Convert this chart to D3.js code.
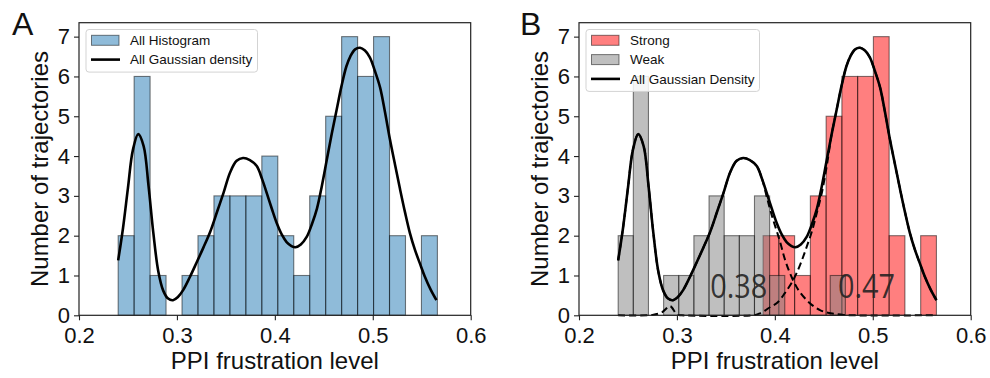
<!DOCTYPE html>
<html>
<head>
<meta charset="utf-8">
<script src="https://cdn.jsdelivr.net/npm/d3@7"></script>
<style>
  body { margin: 0; background: #fff; }
  svg { display: block; font-family: "Liberation Sans", Arial, sans-serif; }
</style>
</head>
<body>
<svg width="990" height="378"></svg>
<script>
// Histogram counts
const allRange = [0.240, 0.566];
const allCounts = [2, 6, 1, 0, 1, 2, 3, 3, 3, 4, 2, 1, 3, 5, 7, 6, 7, 2, 0, 2];

const weakRange = [0.240, 0.472];
const weakCounts = [2, 6, 0, 1, 1, 2, 3, 2, 2, 3, 1, 0, 0, 0, 1];

const strongRange = [0.388, 0.565];
const strongCounts = [2, 2, 1, 3, 5, 6, 6, 7, 2, 0, 2];

// Gaussian density curve [x, count]
const density = [
  [0.2400, 1.38], [0.2450, 2.20], [0.2500, 3.20], [0.2550, 4.15], [0.2605, 4.55],
  [0.2660, 4.25], [0.2710, 3.25], [0.2760, 2.05], [0.2810, 1.10], [0.2860, 0.62],
  [0.2910, 0.42], [0.2960, 0.38], [0.3010, 0.46], [0.3065, 0.64], [0.3130, 0.95],
  [0.3200, 1.32], [0.3270, 1.70], [0.3340, 2.10], [0.3410, 2.60], [0.3475, 3.07],
  [0.3545, 3.60], [0.3610, 3.88], [0.3675, 3.95], [0.3745, 3.90], [0.3815, 3.75],
  [0.3870, 3.42], [0.3920, 3.05], [0.3970, 2.67], [0.4020, 2.31], [0.4070, 2.03],
  [0.4120, 1.84], [0.4170, 1.74], [0.4210, 1.71], [0.4265, 1.78], [0.4325, 1.97],
  [0.4380, 2.30], [0.4430, 2.68], [0.4480, 3.25], [0.4530, 3.90], [0.4580, 4.55],
  [0.4630, 5.15], [0.4680, 5.75], [0.4730, 6.25], [0.4770, 6.50], [0.4820, 6.68],
  [0.4870, 6.72], [0.4920, 6.65], [0.4970, 6.48], [0.5020, 6.15], [0.5075, 5.72],
  [0.5125, 5.10], [0.5175, 4.42], [0.5230, 3.75], [0.5280, 3.15], [0.5330, 2.58],
  [0.5380, 2.06], [0.5430, 1.65], [0.5480, 1.31], [0.5530, 0.98], [0.5590, 0.65],
  [0.5650, 0.38]
];

// dashed weak component, where it leaves the solid curve
const weakTail = [
  [0.3920, 2.95], [0.3970, 2.50], [0.4048, 1.89], [0.4110, 1.35], [0.4184, 0.89],
  [0.4250, 0.60], [0.4325, 0.38], [0.4400, 0.22], [0.4461, 0.13], [0.4530, 0.07],
  [0.4600, 0.04], [0.4700, 0.01], [0.4800, 0.00], [0.5650, 0.00]
];

// dashed strong component, before it joins the solid curve
const strongHead = [
  [0.2400, 0.00], [0.2750, 0.01], [0.2850, 0.08], [0.2930, 0.23], [0.3000, 0.02],
  [0.3050, 0.00], [0.3800, 0.01], [0.3848, 0.05], [0.3900, 0.12], [0.3960, 0.22],
  [0.4018, 0.30], [0.4100, 0.55], [0.4188, 0.89], [0.4260, 1.28], [0.4325, 1.72],
  [0.4380, 2.12], [0.4427, 2.56], [0.4480, 3.08], [0.4530, 3.75]
];

const xTicks = [0.2, 0.3, 0.4, 0.5, 0.6];
const yTicks = [0, 1, 2, 3, 4, 5, 6, 7];
const peakLabels = [{ x: 0.334, text: "0.38" }, { x: 0.4645, text: "0.47" }];

const svg = d3.select("svg");

function binsFrom(range, counts) {
  const w = (range[1] - range[0]) / counts.length;
  return counts.map((c, i) => ({ x0: range[0] + i * w, x1: range[0] + (i + 1) * w, n: c }));
}

function makePanel(offsetX, letter) {
  const g = svg.append("g").attr("transform", `translate(${offsetX},0)`);
  const x = d3.scaleLinear().domain([0.2, 0.6]).range([79, 470.7]);
  const y = d3.scaleLinear().domain([0, 7.35]).range([315.3, 22.7]);

  g.append("text")
    .attr("x", offsetX === 0 ? 12 : 20)
    .attr("y", 35)
    .attr("font-size", 32)
    .attr("fill", "#111")
    .text(letter);

  return { g, x, y };
}

function drawBars(p, bins, fill) {
  p.g.append("g").selectAll("rect")
    .data(bins.filter(d => d.n > 0))
    .enter().append("rect")
    .attr("x", d => p.x(d.x0))
    .attr("width", d => p.x(d.x1) - p.x(d.x0))
    .attr("y", d => p.y(d.n))
    .attr("height", d => p.y(0) - p.y(d.n))
    .attr("fill", fill)
    .attr("fill-opacity", 0.5)
    .attr("stroke", "#000")
    .attr("stroke-opacity", 0.5)
    .attr("stroke-width", 1.1);
}

function drawAxes(p) {
  const { g, x, y } = p;
  g.append("rect")
    .attr("x", x(0.2)).attr("y", y(7.35))
    .attr("width", x(0.6) - x(0.2)).attr("height", y(0) - y(7.35))
    .attr("fill", "none").attr("stroke", "#222").attr("stroke-width", 1.2);

  const xa = g.append("g").attr("transform", `translate(0,${y(0)})`)
    .call(d3.axisBottom(x).tickValues(xTicks).tickFormat(d3.format(".1f")).tickSize(5).tickPadding(7.5));
  const ya = g.append("g").attr("transform", `translate(${x(0.2)},0)`)
    .call(d3.axisLeft(y).tickValues(yTicks).tickFormat(d3.format("d")).tickSize(5).tickPadding(4));
  [xa, ya].forEach(a => {
    a.select(".domain").remove();
    a.selectAll("line").attr("stroke", "#222").attr("stroke-width", 1.1);
    a.selectAll("text").attr("font-size", 22).attr("fill", "#111")
      .attr("font-family", "'Liberation Sans', Arial, sans-serif");
  });

  g.append("text")
    .attr("x", (x(0.2) + x(0.6)) / 2)
    .attr("y", 369)
    .attr("text-anchor", "middle")
    .attr("font-size", 24)
    .attr("fill", "#111")
    .text("PPI frustration level");

  g.append("text")
    .attr("transform", `translate(48,${(y(0) + y(7.35)) / 2}) rotate(-90)`)
    .attr("text-anchor", "middle")
    .attr("font-size", 24)
    .attr("fill", "#111")
    .text("Number of trajectories");
}

const line = d3.line().curve(d3.curveCatmullRom.alpha(0.5));

function drawCurve(p, pts, dashed) {
  p.g.append("path")
    .attr("d", line(pts.map(d => [p.x(d[0]), p.y(d[1])])))
    .attr("fill", "none")
    .attr("stroke", "#000")
    .attr("stroke-width", dashed ? 2 : 2.6)
    .attr("stroke-dasharray", dashed ? "7,4" : null);
}

function drawLegend(p, items, width) {
  const lg = p.g.append("g").attr("transform", "translate(86,29.5)");
  lg.append("rect")
    .attr("width", width).attr("height", 4 + items.length * 19.3)
    .attr("rx", 3)
    .attr("fill", "#fff").attr("fill-opacity", 0.85)
    .attr("stroke", "#d3d3d3");
  items.forEach((it, i) => {
    const cy = 10.8 + i * 19.3;
    if (it.type === "patch") {
      lg.append("rect")
        .attr("x", 5.5).attr("y", cy - 5).attr("width", 27.5).attr("height", 10)
        .attr("fill", it.color).attr("fill-opacity", 0.5)
        .attr("stroke", "#000").attr("stroke-opacity", 0.5);
    } else {
      lg.append("line")
        .attr("x1", 5).attr("x2", 34).attr("y1", cy).attr("y2", cy)
        .attr("stroke", "#000").attr("stroke-width", 2.6);
    }
    lg.append("text")
      .attr("x", 44).attr("y", cy + 4.8)
      .attr("font-size", 13.5)
      .attr("fill", "#111")
      .text(it.label);
  });
}

// Panel A
const pa = makePanel(0, "A");
drawBars(pa, binsFrom(allRange, allCounts), "#1f77b4");
drawCurve(pa, density, false);
drawAxes(pa);
drawLegend(pa, [
  { type: "patch", color: "#1f77b4", label: "All Histogram" },
  { type: "line", label: "All Gaussian density" }
], 171.5);

// Panel B
const pb = makePanel(500, "B");
drawBars(pb, binsFrom(strongRange, strongCounts), "red");
drawBars(pb, binsFrom(weakRange, weakCounts), "gray");

const weakCurve = density.filter(d => d[0] <= 0.3870).concat(weakTail);
const strongCurve = strongHead.concat(density.filter(d => d[0] >= 0.4580));
drawCurve(pb, weakCurve, true);
drawCurve(pb, strongCurve, true);
drawCurve(pb, density, false);

pb.g.selectAll(".peak")
  .data(peakLabels)
  .enter().append("text")
  .attr("class", "peak")
  .attr("x", d => pb.x(d.x))
  .attr("y", pb.y(0.44))
  .attr("font-family", "'Open Sans', sans-serif")
  .attr("font-size", 33)
  .attr("textLength", 57)
  .attr("lengthAdjust", "spacingAndGlyphs")
  .attr("fill", "#222")
  .attr("fill-opacity", 0.9)
  .text(d => d.text);

drawAxes(pb);
drawLegend(pb, [
  { type: "patch", color: "red", label: "Strong" },
  { type: "patch", color: "gray", label: "Weak" },
  { type: "line", label: "All Gaussian Density" }
], 173.5);
</script>
</body>
</html>
